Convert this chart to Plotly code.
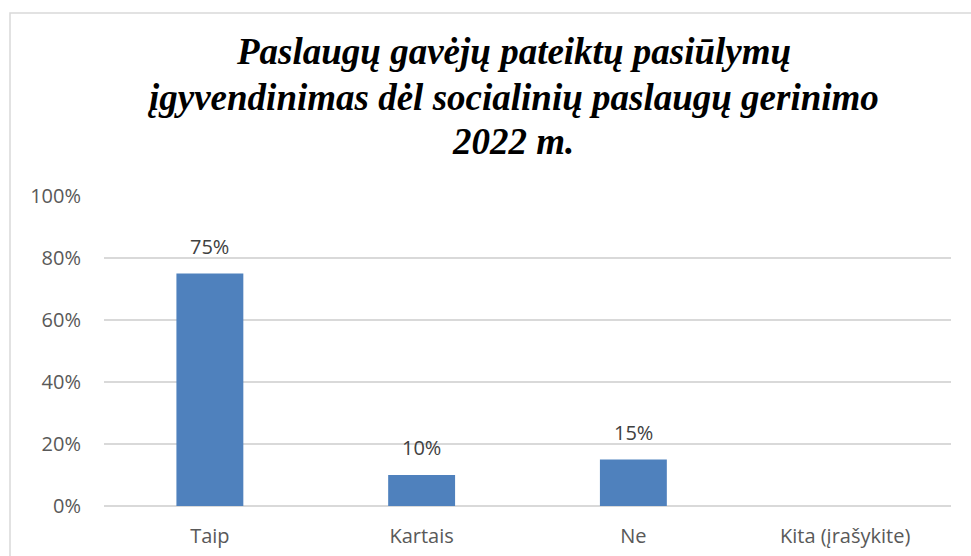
import plotly.graph_objects as go

categories = ["Taip", "Kartais", "Ne", "Kita (įrašykite)"]
values = [75, 10, 15, 0]
labels = [f"{v}%" if v > 0 else "" for v in values]
y_ticks = [0, 20, 40, 60, 80, 100]
y_tick_text = [f"{t}%" for t in y_ticks]
title_lines = [
    "Paslaugų gavėjų pateiktų pasiūlymų",
    "įgyvendinimas dėl socialinių paslaugų gerinimo",
    "2022 m.",
]

W, H = 971, 556
L, R, T, B = 104, 20, 196, 50
pw, ph = W - L - R, H - T - B

def px_x(x):
    return (x - L) / pw

def px_y(y):
    return 1 - (y - T) / ph

fig = go.Figure(go.Bar(
    x=categories, y=values,
    marker=dict(color="#4f81bd", line=dict(width=0)),
    hoverinfo="x+y",
))

annotations = []
for c, v, t in zip(categories, values, labels):
    if t:
        annotations.append(dict(
            x=c, y=v, xref="x", yref="y", text=t, showarrow=False,
            yanchor="bottom", yshift=12,
            font=dict(family="Open Sans", size=20, color="#404040"),
        ))

title_y = [52, 98, 142]
for line, yc in zip(title_lines, title_y):
    annotations.append(dict(
        x=px_x(513), y=px_y(yc), xref="paper", yref="paper",
        text=f"<b><i>{line}</i></b>", showarrow=False,
        xanchor="center", yanchor="middle",
        font=dict(family="Liberation Serif", size=37, color="black"),
    ))

fig.update_layout(
    width=W, height=H,
    margin=dict(l=L, r=R, t=T, b=B, autoexpand=False),
    paper_bgcolor="white", plot_bgcolor="white",
    bargap=0.684,
    showlegend=False,
    xaxis=dict(
        showgrid=False, showline=False, zeroline=False, automargin=False,
        tickfont=dict(family="Open Sans", size=20, color="#595959"),
        ticklabelstandoff=16,
    ),
    yaxis=dict(
        range=[0, 100], tickvals=y_ticks, ticktext=y_tick_text,
        showgrid=True, gridcolor="#d9d9d9", gridwidth=1.5,
        zeroline=True, zerolinecolor="#d9d9d9", zerolinewidth=1.5,
        showline=False, automargin=False,
        tickfont=dict(family="Open Sans", size=20, color="#595959"),
        ticklabelstandoff=22,
    ),
    annotations=annotations,
    shapes=[dict(
        type="rect", xref="paper", yref="paper",
        x0=px_x(10), x1=px_x(1010), y0=px_y(600), y1=px_y(13),
        line=dict(color="#d9d9d9", width=1.5), fillcolor="rgba(0,0,0,0)",
        layer="below",
    )],
)

fig.write_html("out.html")
